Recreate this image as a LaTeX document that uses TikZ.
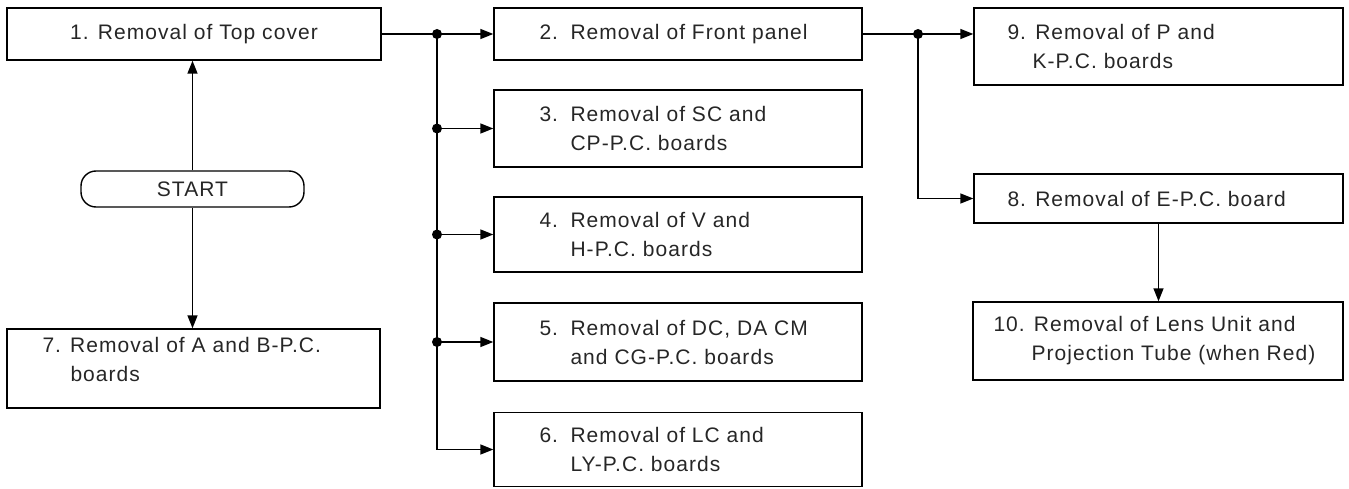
\documentclass[tikz,border=0pt]{standalone}
\usepackage{fontspec}
\setmainfont{Liberation Sans}[LetterSpace=5]
\usetikzlibrary{arrows.meta,calc}
\newcommand\nlab[1]{\makebox[31pt][l]{#1}}
\tikzset{
  box/.style={draw, line width=1.4pt, rectangle, inner sep=0pt},
  txt/.style={inner sep=0pt, align=left, anchor=west, font=\fontsize{21}{29}\selectfont, text=black!85},
  conn/.style={line width=1.4pt},
  arr/.style={conn, -{Triangle[length=13pt,width=10pt]}},
  jdot/.style={circle, fill, inner sep=0pt, minimum size=10pt},
}
\begin{document}
\begin{tikzpicture}[x=1pt,y=-1pt]
\useasboundingbox (0,0) rectangle (1349,489);
% boxes
\node[box, minimum width=374pt, minimum height=52pt] (b1) at (194,34) {};
\node[box, minimum width=368pt, minimum height=52pt] (b2) at (678,34) {};
\node[box, minimum width=368pt, minimum height=77pt] (b3) at (678,128.5) {};
\node[box, minimum width=368pt, minimum height=75pt] (b4) at (678,234.5) {};
\node[box, minimum width=368pt, minimum height=78pt] (b5) at (678,342) {};
\node[box, minimum width=368pt, minimum height=74pt] (b6) at (678,449.5) {};
\node[box, minimum width=373pt, minimum height=79pt] (b7) at (193.5,368.5) {};
\node[box, minimum width=369pt, minimum height=49pt] (b8) at (1158.5,198.5) {};
\node[box, minimum width=369pt, minimum height=77pt] (b9) at (1158.5,46.5) {};
\node[box, minimum width=370pt, minimum height=78pt] (b10) at (1158,341) {};
\node[box, rounded corners=15pt, minimum width=223pt, minimum height=36pt,
      font=\fontsize{21}{29}\selectfont, text=black!85] (start) at (192.5,189) {START};
% texts
\node[txt, anchor=center] (t1) at (b1) {1. Removal of Top cover};
\node[txt] (t2) at ($(b2.west)+(46,0)$) {\nlab{2.}Removal of Front panel};
\node[txt] (t3) at ($(b3.west)+(46,0)$) {\nlab{3.}Removal of SC and\\\hspace*{31pt}CP-P.C. boards};
\node[txt] (t4) at ($(b4.west)+(46,0)$) {\nlab{4.}Removal of V and\\\hspace*{31pt}H-P.C. boards};
\node[txt] (t5) at ($(b5.west)+(46,0)$) {\nlab{5.}Removal of DC, DA CM\\\hspace*{31pt}and CG-P.C. boards};
\node[txt] (t6) at ($(b6.west)+(46,0)$) {\nlab{6.}Removal of LC and\\\hspace*{31pt}LY-P.C. boards};
\node[txt] (t7) at ($(b7.west)+(36,-9)$) {7. Removal of A and B-P.C.\\\hspace*{28pt}boards};
\node[txt] (t8) at ($(b8.west)+(34,0)$) {8. Removal of E-P.C. board};
\node[txt] (t9) at ($(b9.west)+(34,0)$) {9. Removal of P and\\\hspace*{25pt}K-P.C. boards};
\node[txt] (t10) at ($(b10.west)+(21,0)$) {10. Removal of Lens Unit and\\\hspace*{38pt}Projection Tube (when Red)};
% junctions
\node[jdot] (j1) at (437,34) {};
\node[jdot] (d3) at (j1 |- b3.west) {};
\node[jdot] (d4) at (j1 |- b4.west) {};
\node[jdot] (d5) at (j1 |- b5.west) {};
\coordinate (c6) at (j1 |- b6.west);
\node[jdot] (j2) at (918,34) {};
% connectors
\draw[conn] (b1.east) -- (j1.center);
\draw[arr] (j1.center) -- (b2.west);
\draw[conn] (j1.center) -- (c6);
\draw[arr] (d3.center) -- (b3.west);
\draw[arr] (d4.center) -- (b4.west);
\draw[arr] (d5.center) -- (b5.west);
\draw[arr] (c6) -- (b6.west);
\draw[conn] (b2.east) -- (j2.center);
\draw[arr] (j2.center) -- (j2 -| b9.west);
\draw[arr] (j2.center) |- (b8.west);
\draw[arr] (b8.south) -- (b8.south |- b10.north);
\draw[arr] (start.north) -- (start.north |- b1.south);
\draw[arr] (start.south) -- (start.south |- b7.north);
\end{tikzpicture}
\end{document}
